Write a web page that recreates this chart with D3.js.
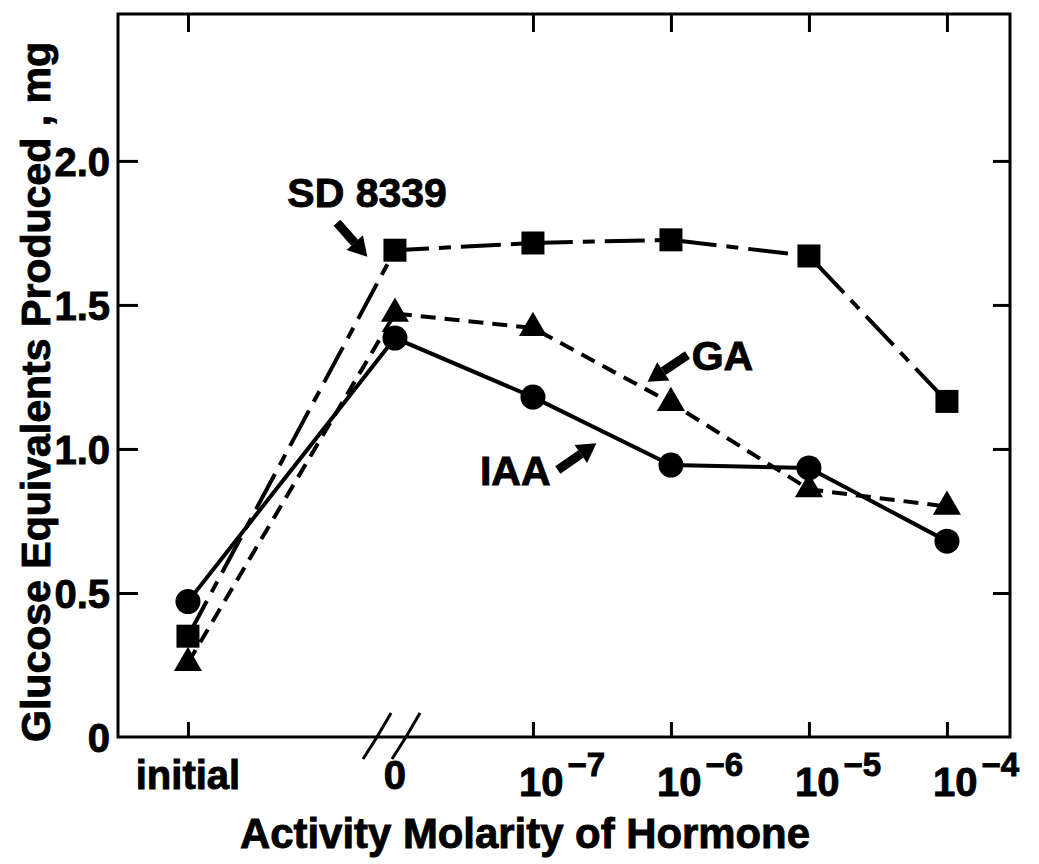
<!DOCTYPE html>
<html>
<head>
<meta charset="utf-8">
<script src="https://cdn.jsdelivr.net/npm/d3@7"></script>
<style>
  body { margin: 0; background: #fff; }
  text { font-family: "Liberation Sans", Arial, sans-serif; font-weight: bold; fill: #000;
         stroke: #000; stroke-width: 0.9px; }
</style>
</head>
<body>
<div id="chart"></div>
<script>
// categories along the broken x axis and where each sits (initial is 1.5 steps left of 0)
const categories = ["initial", "0", "1e-7", "1e-6", "1e-5", "1e-4"];
const catSlot = [-1.5, 0, 1, 2, 3, 4];
const tickBase = ["initial", "0", "10", "10", "10", "10"];
const tickExp = ["", "", "\u22127", "\u22126", "\u22125", "\u22124"];

// series values, mg glucose equivalents
const iaa = [0.47, 1.385, 1.18, 0.944, 0.934, 0.68];
const ga = [0.257, 1.47, 1.42, 1.16, 0.86, 0.80];
const sd8339 = [0.35, 1.69, 1.715, 1.726, 1.67, 1.165];

const yTicks = [0, 0.5, 1.0, 1.5, 2.0];
const yTickLabels = ["0", "0.5", "1.0", "1.5", "2.0"];

const W = 1039, H = 864;
const plotL = 118, plotR = 1010, plotT = 14, plotB = 737;

const svg = d3.select("#chart").append("svg")
    .attr("width", W).attr("height", H)
    .style("background", "#fff");

// scales
const x = d3.scaleLinear().domain([-2.007, 4.457]).range([plotL, plotR]);
const y = d3.scaleLinear().domain([0, 2.51]).range([plotB, plotT]);

// frame
svg.append("rect")
    .attr("x", plotL).attr("y", plotT)
    .attr("width", plotR - plotL).attr("height", plotB - plotT)
    .attr("fill", "none").attr("stroke", "#000").attr("stroke-width", 3);

// inward ticks, left and right
svg.append("g")
    .attr("transform", `translate(${plotL},0)`)
    .call(d3.axisRight(y).tickValues(yTicks.slice(1)).tickSize(20).tickFormat(""))
    .call(g => g.select(".domain").remove())
    .selectAll("line").attr("stroke-width", 3);

svg.append("g")
    .attr("transform", `translate(${plotR},0)`)
    .call(d3.axisLeft(y).tickValues(yTicks.slice(1)).tickSize(17).tickFormat(""))
    .call(g => g.select(".domain").remove())
    .selectAll("line").attr("stroke-width", 3);

// y tick labels
svg.append("g").selectAll("text")
    .data(yTicks)
    .enter().append("text")
    .attr("x", plotL - 8)
    .attr("y", d => y(d) + 15)
    .attr("text-anchor", "end")
    .style("font-size", "40px")
    .text((d, i) => yTickLabels[i]);

// x ticks (none at the break)
const tickSlots = catSlot.filter((d, i) => categories[i] !== "0");

svg.append("g")
    .attr("transform", `translate(0,${plotB})`)
    .call(d3.axisTop(x).tickValues(tickSlots).tickSize(15).tickFormat(""))
    .call(g => g.select(".domain").remove())
    .selectAll("line").attr("stroke-width", 3);

svg.append("g")
    .attr("transform", `translate(0,${plotT})`)
    .call(d3.axisBottom(x).tickValues(tickSlots).tickSize(18).tickFormat(""))
    .call(g => g.select(".domain").remove())
    .selectAll("line").attr("stroke-width", 3);

// axis break marks near 0
const brk = svg.append("g").attr("stroke", "#000").attr("stroke-width", 3).attr("fill", "none");
[-0.13, 0.08].forEach(s => {
    const cx = x(s);
    brk.append("path")
        .attr("d", `M${cx - 14},${plotB + 22} L${cx},${plotB} L${cx + 14},${plotB - 24}`);
});

// x tick labels
const xl = svg.append("g").selectAll("text")
    .data(categories)
    .enter().append("text")
    .style("font-size", "40px")
    .attr("x", (d, i) => tickExp[i] ? x(catSlot[i]) - 14 : x(catSlot[i]))
    .attr("y", (d, i) => tickExp[i] ? 796 : 789)
    .attr("text-anchor", (d, i) => tickExp[i] ? "start" : "middle");

xl.append("tspan").text((d, i) => tickBase[i]);
xl.append("tspan")
    .attr("dx", 4).attr("dy", -20)
    .style("font-size", "33px")
    .text((d, i) => tickExp[i]);

// series
const series = [
    { name: "SD 8339", values: sd8339, dash: "40,10,12,10", symbol: d3.symbolSquare, size: 23 * 23 },
    { name: "GA", values: ga, dash: "15,9", symbol: d3.symbolTriangle, size: 340 },
    { name: "IAA", values: iaa, dash: null, symbol: d3.symbolCircle, size: Math.PI * 12.5 * 12.5 }
];

const line = d3.line()
    .x(d => x(d.slot))
    .y(d => y(d.v));

series.forEach(s => {
    const pts = s.values.map((v, i) => ({ slot: catSlot[i], v: v }));
    svg.append("path")
        .datum(pts)
        .attr("d", line)
        .attr("fill", "none")
        .attr("stroke", "#000")
        .attr("stroke-width", 4)
        .attr("stroke-dasharray", s.dash);

    svg.append("g").selectAll("path")
        .data(pts)
        .enter().append("path")
        .attr("transform", d => `translate(${x(d.slot)},${y(d.v)})`)
        .attr("d", d3.symbol().type(s.symbol).size(s.size))
        .attr("fill", "#000");
});

// labels with arrows, placed in data units
const notes = [
    { text: "SD 8339", tx: -0.78, ty: 1.84, from: [-0.42, 1.785], to: [-0.2, 1.667] },
    { text: "GA", tx: 2.15, ty: 1.274, from: [2.12, 1.326], to: [1.83, 1.233] },
    { text: "IAA", tx: 0.616, ty: 0.875, from: [1.18, 0.927], to: [1.46, 1.02] }
];

notes.forEach(n => {
    svg.append("text")
        .attr("x", x(n.tx)).attr("y", y(n.ty))
        .style("font-size", "41px")
        .text(n.text);

    const x0 = x(n.from[0]), y0 = y(n.from[1]);
    const x1 = x(n.to[0]), y1 = y(n.to[1]);
    const ang = Math.atan2(y1 - y0, x1 - x0);
    const headLen = 19, headW = 11;
    const bx = x1 - headLen * Math.cos(ang), by = y1 - headLen * Math.sin(ang);
    svg.append("line")
        .attr("x1", x0).attr("y1", y0).attr("x2", bx).attr("y2", by)
        .attr("stroke", "#000").attr("stroke-width", 9);
    const px = -Math.sin(ang) * headW, py = Math.cos(ang) * headW;
    svg.append("path")
        .attr("d", `M${x1},${y1} L${bx + px},${by + py} L${bx - px},${by - py} Z`)
        .attr("fill", "#000");
});

// axis titles
svg.append("text")
    .attr("x", 525).attr("y", 848)
    .attr("text-anchor", "middle")
    .attr("textLength", 570).attr("lengthAdjust", "spacingAndGlyphs")
    .style("font-size", "42px")
    .text("Activity Molarity of Hormone");

svg.append("text")
    .attr("transform", "translate(50,392) rotate(-90)")
    .attr("text-anchor", "middle")
    .attr("textLength", 700).attr("lengthAdjust", "spacingAndGlyphs")
    .style("font-size", "41px")
    .text("Glucose Equivalents Produced , mg");
</script>
</body>
</html>
